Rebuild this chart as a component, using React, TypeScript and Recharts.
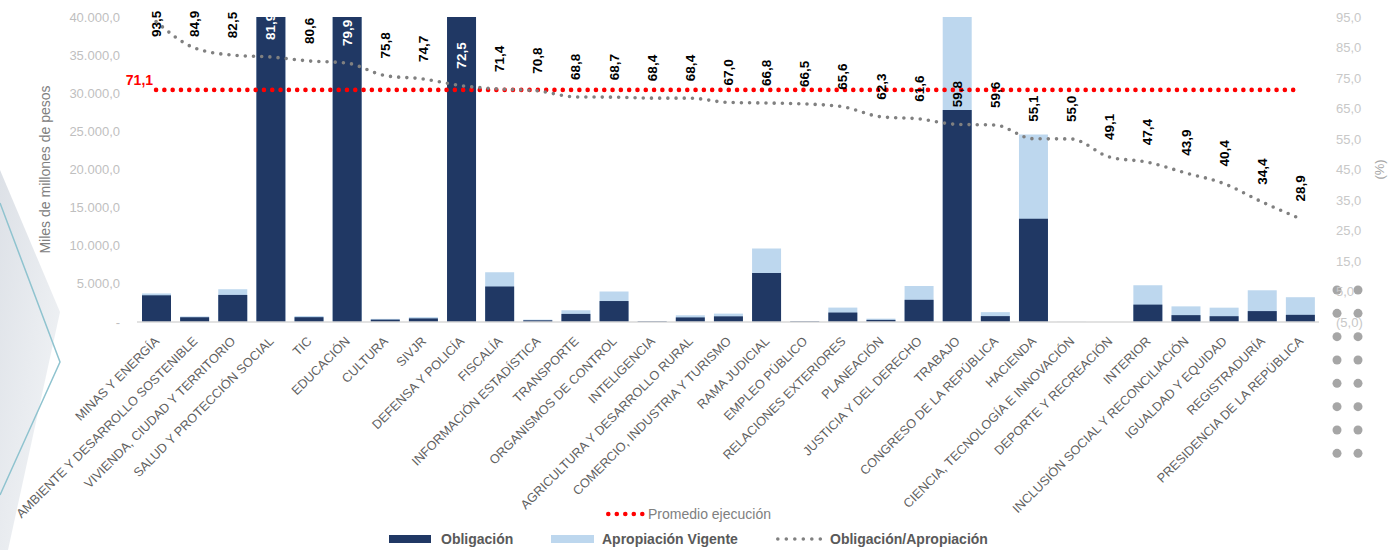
import { ComposedChart, Bar, Line, XAxis, YAxis, LabelList } from "recharts";

const categorias = [
  "MINAS Y ENERGÍA",
  "AMBIENTE Y DESARROLLO SOSTENIBLE",
  "VIVIENDA, CIUDAD Y TERRITORIO",
  "SALUD Y PROTECCIÓN SOCIAL",
  "TIC",
  "EDUCACIÓN",
  "CULTURA",
  "SIVJR",
  "DEFENSA Y POLICÍA",
  "FISCALÍA",
  "INFORMACIÓN ESTADÍSTICA",
  "TRANSPORTE",
  "ORGANISMOS DE CONTROL",
  "INTELIGENCIA",
  "AGRICULTURA Y DESARROLLO RURAL",
  "COMERCIO, INDUSTRIA Y TURISMO",
  "RAMA JUDICIAL",
  "EMPLEO PÚBLICO",
  "RELACIONES EXTERIORES",
  "PLANEACIÓN",
  "JUSTICIA Y DEL DERECHO",
  "TRABAJO",
  "CONGRESO DE LA REPÚBLICA",
  "HACIENDA",
  "CIENCIA, TECNOLOGÍA E INNOVACIÓN",
  "DEPORTE Y RECREACIÓN",
  "INTERIOR",
  "INCLUSIÓN SOCIAL Y RECONCILIACIÓN",
  "IGUALDAD Y EQUIDAD",
  "REGISTRADURÍA",
  "PRESIDENCIA DE LA REPÚBLICA",
];

// miles de millones de pesos
const obligacion = [
  3500, 620, 3550, 57300, 630, 52700, 310, 470, 43500, 4660, 220, 1060, 2750,
  90, 600, 740, 6440, 90, 1240, 275, 2910, 27800, 770, 13550, 6, 4, 2280, 900,
  760, 1430, 940,
];
const apropiacion = [
  3745, 730, 4300, 70000, 780, 66000, 410, 630, 60000, 6530, 310, 1540, 4000,
  130, 880, 1100, 9640, 135, 1890, 440, 4730, 46500, 1290, 24600, 11, 8, 4820,
  2050, 1880, 4160, 3250,
];
// Obligación/Apropiación (%)
const ejecucion = [
  93.5, 84.9, 82.5, 81.9, 80.6, 79.9, 75.8, 74.7, 72.5, 71.4, 70.8, 68.8, 68.7,
  68.4, 68.4, 67.0, 66.8, 66.5, 65.6, 62.3, 61.6, 59.8, 59.6, 55.1, 55.0, 49.1,
  47.4, 43.9, 40.4, 34.4, 28.9,
];
const promedioEjecucion = 71.1;

const ticksMiles = [0, 5000, 10000, 15000, 20000, 25000, 30000, 35000, 40000];
const ticksPct = [-5, 5, 15, 25, 35, 45, 55, 65, 75, 85, 95];

const data = categorias.map((nombre, i) => ({
  nombre,
  obligacion: obligacion[i],
  apropiacion: apropiacion[i],
  ejecucion: ejecucion[i],
  promedio: promedioEjecucion,
}));

const FUENTE = "'Liberation Sans', Arial, sans-serif";
const AZUL = "#203864";
const CELESTE = "#bdd7ee";
const ANCHO_BARRA = 29;

const fmtMiles = (v: number) =>
  v === 0 ? "-" : String(v).replace(/\B(?=(\d{3})+(?!\d))/g, ".") + ",0";

const fmtPct = (v: number) => {
  const s = Math.abs(v).toFixed(1).replace(".", ",");
  return v < 0 ? `(${s})` : s;
};

const TickCategoria = (props: any) => {
  const { x, y, payload } = props;
  const ax = x + 4;
  const ay = y + 20;
  return (
    <text
      x={ax}
      y={ay}
      transform={`rotate(-45, ${ax}, ${ay})`}
      textAnchor="end"
      fontSize={12.7}
      fill="#5f5f5f"
      fontFamily={FUENTE}
    >
      {payload.value}
    </text>
  );
};

const EtiquetaPct = (props: any) => {
  const { x, y, value, index } = props;
  const bx = x + 5;
  const by = Math.max(y - 17, 37);
  const sobreBarra = obligacion[index] > 40000;
  return (
    <text
      x={bx}
      y={by}
      transform={`rotate(-90, ${bx}, ${by})`}
      fontSize={13.5}
      fontWeight="bold"
      fill={sobreBarra ? "#ffffff" : "#000000"}
      fontFamily={FUENTE}
    >
      {fmtPct(value)}
    </text>
  );
};

const EtiquetaPromedio = (props: any) => {
  const { x, y, value, index } = props;
  if (index !== 0) return null;
  return (
    <text
      x={x - 3}
      y={y - 5}
      textAnchor="end"
      fontSize={14}
      fontWeight="bold"
      fill="#ff0000"
      fontFamily={FUENTE}
    >
      {fmtPct(value)}
    </text>
  );
};

const TituloIzq = (props: any) => {
  const { viewBox } = props;
  const cx = 50;
  const cy = viewBox.y + viewBox.height / 2;
  return (
    <text
      x={cx}
      y={cy}
      transform={`rotate(-90, ${cx}, ${cy})`}
      textAnchor="middle"
      fontSize={14}
      fill="#808080"
      fontFamily={FUENTE}
    >
      Miles de millones de pesos
    </text>
  );
};

const TituloDer = (props: any) => {
  const { viewBox } = props;
  const cx = 1384;
  const cy = viewBox.y + viewBox.height / 2;
  return (
    <text
      x={cx}
      y={cy}
      transform={`rotate(-90, ${cx}, ${cy})`}
      textAnchor="middle"
      fontSize={13}
      fill="#a6a6a6"
      fontFamily={FUENTE}
    >
      (%)
    </text>
  );
};

function Fondo() {
  const filas = [0, 1, 2, 3, 4, 5, 6, 7];
  return (
    <svg
      width={1388}
      height={550}
      style={{ position: "absolute", left: 0, top: 0 }}
    >
      <defs>
        <linearGradient id="sombra" x1="0" y1="0" x2="1" y2="1">
          <stop offset="0%" stopColor="#dde1e7" />
          <stop offset="100%" stopColor="#f4f6f8" />
        </linearGradient>
      </defs>
      <polygon points="0,170 60,312 8,550 0,550" fill="url(#sombra)" />
      <polyline
        points="0,203 60,362 0,495"
        fill="none"
        stroke="#8fc3cf"
        strokeWidth={1.5}
      />
      {filas.map((f) => (
        <g key={f}>
          <circle cx={1337} cy={290 + f * 23.33} r={4.5} fill="#a6a6a6" />
          <circle cx={1358} cy={290 + f * 23.33} r={4.5} fill="#a6a6a6" />
        </g>
      ))}
    </svg>
  );
}

const Puntos = ({ color, n, r }: { color: string; n: number; r: number }) => (
  <svg width={n * 8.5} height={10} style={{ display: "block" }}>
    {Array.from({ length: n }, (_, i) => (
      <circle key={i} cx={r + i * 8.5} cy={5} r={r} fill={color} />
    ))}
  </svg>
);

function Leyenda() {
  const txt = {
    position: "absolute" as const,
    fontFamily: FUENTE,
    fontSize: 14,
    fontWeight: "bold" as const,
    color: "#595959",
    lineHeight: "16px",
    whiteSpace: "nowrap" as const,
  };
  return (
    <>
      <div style={{ position: "absolute", left: 606, top: 509 }}>
        <Puntos color="#ff0000" n={5} r={2.3} />
      </div>
      <div style={{ ...txt, left: 648, top: 506, fontWeight: "normal", color: "#808080" }}>
        Promedio ejecución
      </div>
      <div style={{ position: "absolute", left: 389, top: 535, width: 42, height: 8, background: AZUL }} />
      <div style={{ ...txt, left: 441, top: 531 }}>Obligación</div>
      <div style={{ position: "absolute", left: 551, top: 535, width: 43, height: 8, background: CELESTE }} />
      <div style={{ ...txt, left: 602, top: 531 }}>Apropiación Vigente</div>
      <div style={{ position: "absolute", left: 776, top: 534 }}>
        <Puntos color="#808080" n={6} r={1.8} />
      </div>
      <div style={{ ...txt, left: 830, top: 531 }}>Obligación/Apropiación</div>
    </>
  );
}

export default function App() {
  return (
    <div
      style={{
        position: "absolute",
        left: 0,
        top: 0,
        width: 1388,
        height: 550,
        background: "#fff",
        overflow: "hidden",
      }}
    >
      <Fondo />
      <div style={{ position: "absolute", left: 0, top: 0 }}>
        <ComposedChart
          width={1388}
          height={550}
          data={data}
          margin={{ top: 17, right: 0, bottom: 0, left: 0 }}
          barSize={ANCHO_BARRA}
          barGap={-ANCHO_BARRA}
        >
          <XAxis
            dataKey="nombre"
            interval={0}
            height={228}
            tickSize={0}
            tickMargin={0}
            tickLine={false}
            axisLine={{ stroke: "#d9d9d9", strokeWidth: 1.5 }}
            tick={<TickCategoria />}
          />
          <YAxis
            yAxisId="izq"
            orientation="left"
            width={137}
            domain={[0, 40000]}
            ticks={ticksMiles}
            allowDataOverflow
            axisLine={false}
            tickLine={false}
            tickSize={0}
            tickMargin={17}
            tickFormatter={fmtMiles}
            tick={{ fill: "#bfbfbf", fontSize: 13, fontFamily: FUENTE }}
            label={<TituloIzq />}
          />
          <YAxis
            yAxisId="der"
            orientation="right"
            width={69}
            domain={[-5, 95]}
            ticks={ticksPct}
            allowDataOverflow
            axisLine={false}
            tickLine={false}
            tickSize={0}
            tickMargin={17}
            tickFormatter={fmtPct}
            tick={{ fill: "#c8c8c8", fontSize: 13, fontFamily: FUENTE, textAnchor: "start" }}
            label={<TituloDer />}
          />
          <Bar
            yAxisId="izq"
            dataKey="apropiacion"
            name="Apropiación Vigente"
            fill={CELESTE}
            isAnimationActive={false}
          />
          <Bar
            yAxisId="izq"
            dataKey="obligacion"
            name="Obligación"
            fill={AZUL}
            isAnimationActive={false}
          />
          <Line
            yAxisId="der"
            dataKey="promedio"
            name="Promedio ejecución"
            type="linear"
            stroke="#ff0000"
            strokeWidth={4.6}
            strokeDasharray="0 8.3"
            strokeLinecap="round"
            dot={false}
            activeDot={false}
            isAnimationActive={false}
          >
            <LabelList dataKey="promedio" content={<EtiquetaPromedio />} />
          </Line>
          <Line
            yAxisId="der"
            dataKey="ejecucion"
            name="Obligación/Apropiación"
            type="monotone"
            stroke="#808080"
            strokeWidth={3.6}
            strokeDasharray="0 8.2"
            strokeLinecap="round"
            dot={false}
            activeDot={false}
            isAnimationActive={false}
          >
            <LabelList dataKey="ejecucion" content={<EtiquetaPct />} />
          </Line>
        </ComposedChart>
      </div>
      <Leyenda />
    </div>
  );
}
